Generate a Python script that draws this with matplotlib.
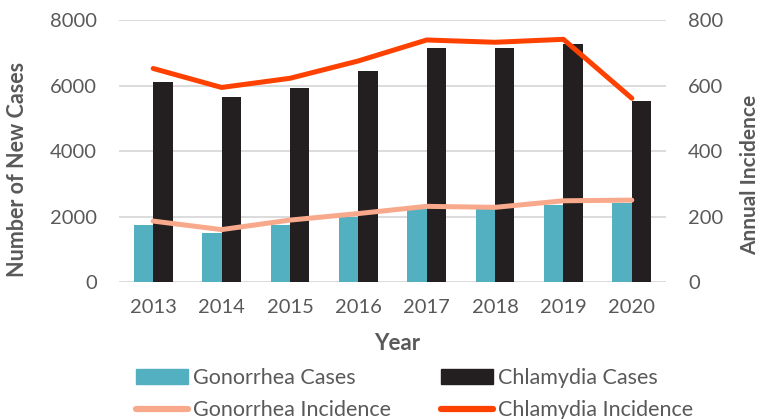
import matplotlib
matplotlib.use("Agg")
import matplotlib.pyplot as plt
import numpy as np
from matplotlib.patches import Patch
from matplotlib.lines import Line2D

years = ["2013", "2014", "2015", "2016", "2017", "2018", "2019", "2020"]
gonorrhea_cases = [1730, 1500, 1740, 1970, 2220, 2220, 2360, 2400]
chlamydia_cases = [6100, 5660, 5910, 6440, 7160, 7130, 7280, 5520]
gonorrhea_incidence = [186, 160, 189, 209, 231, 228, 248, 250]
chlamydia_incidence = [652, 594, 622, 675, 739, 732, 741, 561]

c_teal = "#52B0C0"
c_black = "#231F20"
c_gline = "#F9A98B"
c_cline = "#FF4100"
c_text = "#595959"

plt.rcParams['font.family'] = ['Lato', 'DejaVu Sans']

W, H = 761, 419
fig = plt.figure(figsize=(W / 100, H / 100), dpi=100)
L, R, T, B = 119, 666, 20, 282
ax = fig.add_axes([L / W, 1 - B / H, (R - L) / W, (B - T) / H])
ax2 = ax.twinx()

x = np.arange(len(years))
w = 0.283
ax.bar(x - w / 2, gonorrhea_cases, w, color=c_teal, zorder=2)
ax.bar(x + w / 2, chlamydia_cases, w, color=c_black, zorder=2)
ax2.plot(x, gonorrhea_incidence, color=c_gline, lw=3.6, solid_capstyle='round', zorder=3)
ax2.plot(x, chlamydia_incidence, color=c_cline, lw=3.6, solid_capstyle='round', zorder=3)

ax.set_xlim(-0.5, len(years) - 0.5)
ax.set_ylim(0, 8000)
ax.set_yticks([0, 2000, 4000, 6000, 8000])
ax2.set_ylim(0, 800)
ax2.set_yticks([0, 200, 400, 600, 800])
ax.set_xticks(x)
ax.set_xticklabels(years)

ax.grid(axis='y', color='#D9D9D9', lw=1.3, zorder=0)
ax.set_axisbelow(True)
for a in (ax, ax2):
    for s in a.spines.values():
        s.set_visible(False)
    a.tick_params(length=0, labelsize=14.5, labelcolor=c_text)
ax.tick_params(axis='y', pad=16)
ax2.tick_params(axis='y', pad=16)
ax.tick_params(axis='x', pad=12)

def fx(px):
    return (px - L) / (R - L)

def fy(py):
    return (B - py) / (B - T)

ax.set_ylabel("Number of New Cases", fontsize=15.5, fontweight='bold', color=c_text,
              ha='center', va='center')
ax.yaxis.set_label_coords(fx(18), fy(169))
ax2.set_ylabel("Annual Incidence", fontsize=15, fontweight='bold', color=c_text,
               ha='center', va='center')
ax2.yaxis.set_label_coords(fx(750), fy(175))
ax.set_xlabel("Year", fontsize=16, fontweight='bold', color=c_text, ha='center', va='center')
ax.xaxis.set_label_coords(fx(397), fy(344))

handles = [
    Patch(color=c_teal, label="Gonorrhea Cases"),
    Line2D([], [], color=c_gline, lw=4.5, solid_capstyle='round', label="Gonorrhea Incidence"),
    Patch(color=c_black, label="Chlamydia Cases"),
    Line2D([], [], color=c_cline, lw=4.5, solid_capstyle='round', label="Chlamydia Incidence"),
]
leg = fig.legend(handles=handles, ncol=2, loc='upper left', bbox_to_anchor=(136 / W, 1 - 368 / H),
                 frameon=False, fontsize=15.5, handlelength=2.4, handleheight=0.65,
                 handletextpad=0.23, columnspacing=2.35, labelspacing=0.58,
                 borderpad=0, borderaxespad=0)
for t in leg.get_texts():
    t.set_color(c_text)

fig.savefig("out.png", dpi=100)
